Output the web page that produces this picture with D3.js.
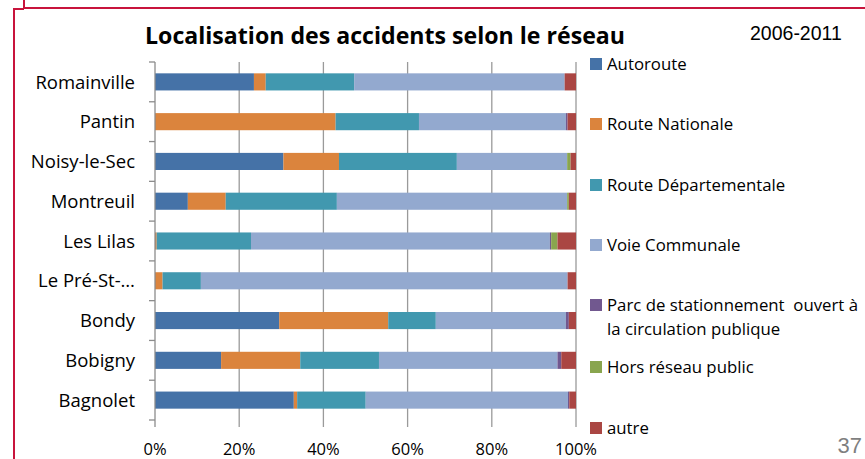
<!DOCTYPE html>
<html>
<head>
<meta charset="utf-8">
<script src="https://cdn.jsdelivr.net/npm/d3@7"></script>
<style>
  body { margin: 0; background: #fff; }
  svg { display: block; font-family: "Open Sans", Lato, sans-serif; }
</style>
</head>
<body>
<svg id="chart" width="865" height="459"></svg>
<script>
// categories, top to bottom
const communes = ["Romainville", "Pantin", "Noisy-le-Sec", "Montreuil", "Les Lilas",
  "Le Pré-St-…", "Bondy", "Bobigny", "Bagnolet"];

const seriesNames = ["Autoroute", "Route Nationale", "Route Départementale", "Voie Communale",
  "Parc de stationnement  ouvert à la circulation publique", "Hors réseau public", "autre"];

// share (%) per commune, same order as communes
const autoroute     = [23.5,  0.0, 30.5,  7.8,  0.0,  0.0, 29.5, 15.7, 33.0];
const routeNat      = [ 2.8, 42.9, 13.2,  9.0,  0.4,  1.8, 25.9, 18.8,  0.8];
const routeDep      = [21.0, 19.8, 28.0, 26.4, 22.4,  9.1, 11.3, 18.7, 16.3];
const voieCommunale = [50.0, 34.9, 26.2, 54.7, 71.0, 87.1, 30.9, 42.4, 48.1];
const parc          = [ 0.0,  0.4,  0.0,  0.0,  0.3,  0.0,  0.7,  0.9,  0.3];
const horsReseau    = [ 0.0,  0.0,  0.8,  0.4,  1.5,  0.0,  0.0,  0.0,  0.0];
const autre         = [ 2.7,  2.0,  1.3,  1.7,  4.4,  2.0,  1.7,  3.5,  1.6];

const xTicks = [0, 0.2, 0.4, 0.6, 0.8, 1];

const colors = ["#4572A7", "#DB843D", "#4198AF", "#93A9CF", "#71588F", "#89A54E", "#AA4643"];

const allSeries = [autoroute, routeNat, routeDep, voieCommunale, parc, horsReseau, autre];
const rows = communes.map((c, i) => {
  const r = {commune: c};
  seriesNames.forEach((s, k) => r[s] = allSeries[k][i]);
  return r;
});

const svg = d3.select("#chart");

// slide frame
const red = "#C8143C";
svg.append("polyline")
  .attr("points", "24,0 24,8 865,8")
  .attr("fill", "none").attr("stroke", red).attr("stroke-width", 2);
svg.append("polyline")
  .attr("points", "24,9 14,9 14,459")
  .attr("fill", "none").attr("stroke", red).attr("stroke-width", 2);

const plotLeft = 155, plotRight = 576, plotTop = 62, plotBottom = 420;

const x = d3.scaleLinear().domain([0, 1]).range([plotLeft, plotRight]);
const y = d3.scaleBand().domain(communes).range([plotTop, plotBottom])
  .paddingInner(0.57).paddingOuter(0.285);

const stack = d3.stack().keys(seriesNames)
  .offset(d3.stackOffsetExpand);
const layers = stack(rows);

// gridlines (extend below plot as ticks)
svg.append("g")
  .selectAll("line")
  .data(xTicks.slice(1))
  .join("line")
  .attr("x1", d => x(d)).attr("x2", d => x(d))
  .attr("y1", plotTop).attr("y2", plotBottom + 7)
  .attr("stroke", "#9a9a9a").attr("stroke-width", 1.3);

// bars
svg.append("g")
  .selectAll("g")
  .data(layers)
  .join("g")
  .attr("fill", (d, i) => colors[i])
  .selectAll("rect")
  .data(d => d)
  .join("rect")
  .attr("x", d => x(d[0]))
  .attr("width", d => Math.max(0, x(d[1]) - x(d[0])))
  .attr("y", d => y(d.data.commune))
  .attr("height", y.bandwidth());

// y axis line + ticks at band boundaries
const yAxis = svg.append("g").attr("stroke", "#8c8c8c").attr("stroke-width", 1.3);
yAxis.append("line")
  .attr("x1", plotLeft).attr("x2", plotLeft)
  .attr("y1", plotTop).attr("y2", plotBottom + 7);
yAxis.selectAll("line.tk")
  .data(d3.range(communes.length + 1))
  .join("line")
  .attr("class", "tk")
  .attr("x1", plotLeft - 6).attr("x2", plotLeft)
  .attr("y1", i => plotTop + i * y.step())
  .attr("y2", i => plotTop + i * y.step());

// category labels
svg.append("g")
  .selectAll("text")
  .data(communes)
  .join("text")
  .attr("x", 135)
  .attr("y", d => y(d) + y.bandwidth() / 2)
  .attr("dy", "0.36em")
  .attr("text-anchor", "end")
  .attr("font-size", 18.5)
  .attr("fill", "#000")
  .text(d => d);

// x tick labels
svg.append("g")
  .selectAll("text")
  .data(xTicks)
  .join("text")
  .attr("x", d => x(d))
  .attr("y", 455)
  .attr("text-anchor", "middle")
  .attr("font-size", 16.5)
  .attr("fill", "#000")
  .text(d => d3.format(".0%")(d));

// title
svg.append("text")
  .attr("x", 385).attr("y", 44)
  .attr("text-anchor", "middle")
  .attr("font-size", 23)
  .attr("font-weight", "bold")
  .attr("textLength", 480)
  .attr("lengthAdjust", "spacingAndGlyphs")
  .text("Localisation des accidents selon le réseau");

svg.append("text")
  .attr("x", 750).attr("y", 40)
  .attr("font-family", "'Liberation Sans', Arial, sans-serif")
  .attr("font-size", 19.5)
  .text("2006-2011");

svg.append("text")
  .attr("x", 862).attr("y", 453)
  .attr("text-anchor", "end")
  .attr("font-family", "'Liberation Sans', Arial, sans-serif")
  .attr("font-size", 22)
  .attr("fill", "#7f7f7f")
  .text("37");

// legend
const legendY = [64, 124, 185, 245, 305, 367, 428];
const legendLines = [["Autoroute"], ["Route Nationale"], ["Route Départementale"], ["Voie Communale"],
  ["Parc de stationnement  ouvert à", "la circulation publique"], ["Hors réseau public"], ["autre"]];
const lg = svg.append("g")
  .selectAll("g")
  .data(seriesNames)
  .join("g")
  .attr("transform", (d, i) => `translate(590,${legendY[i]})`);
lg.append("rect")
  .attr("x", 0).attr("y", -6)
  .attr("width", 12).attr("height", 12)
  .attr("fill", (d, i) => colors[i]);
lg.append("text")
  .attr("x", 17)
  .attr("font-size", 16.8)
  .attr("fill", "#000")
  .selectAll("tspan")
  .data((d, i) => legendLines[i])
  .join("tspan")
  .attr("x", 17)
  .attr("y", (d, j) => j * 24)
  .attr("dy", "0.36em")
  .style("white-space", "pre")
  .text(d => d);
</script>
</body>
</html>
